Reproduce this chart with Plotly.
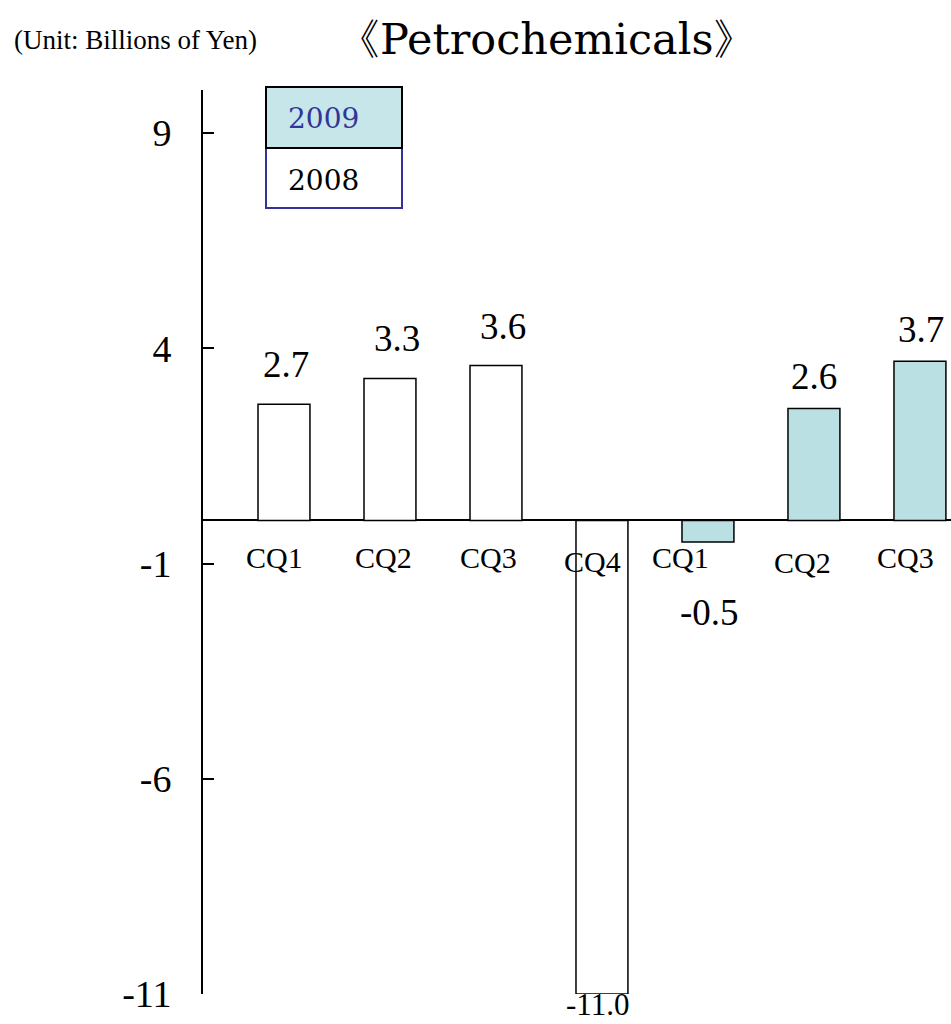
import plotly.graph_objects as go

# ---- data ----
categories = ["CQ1", "CQ2", "CQ3", "CQ4", "CQ1", "CQ2", "CQ3"]
years = ["2008", "2008", "2008", "2008", "2009", "2009", "2009"]
values = [2.7, 3.3, 3.6, -11.0, -0.5, 2.6, 3.7]
value_labels = ["2.7", "3.3", "3.6", "-11.0", "-0.5", "2.6", "3.7"]
y_ticks = [-11, -6, -1, 4, 9]

# ---- layout geometry (pixels) ----
W, H = 951, 1024
L, R, T, B = 203, 0, 90, 30
PW, PH = W - L - R, H - T - B

def px_x(p):
    return (p - L) / PW

def px_y(p):
    return (H - B - p) / PH

SERIF = "'Liberation Serif', 'Times New Roman', serif"
TITLE_FONT = "'DejaVu Serif', serif"
FILL_2009 = "#BBE0E3"

xs = list(range(len(categories)))
x08 = [x for x, y in zip(xs, years) if y == "2008"]
v08 = [v for v, y in zip(values, years) if y == "2008"]
x09 = [x for x, y in zip(xs, years) if y == "2009"]
v09 = [v for v, y in zip(values, years) if y == "2009"]

fig = go.Figure()
fig.add_trace(go.Bar(x=x08, y=v08, name="2008", width=0.49,
                     marker=dict(color="white", line=dict(color="black", width=1.5))))
fig.add_trace(go.Bar(x=x09, y=v09, name="2009", width=0.49,
                     marker=dict(color=FILL_2009, line=dict(color="black", width=1.5))))

annotations = []
# value labels (pixel shifts tuned to the reference)
val_dx = [2, 7, 7, -4, 2, 0, 1]
val_dy = [40, 40, 39, -10, -70, 32, 32]
val_size = [37, 37, 37, 31, 37, 37, 37]
for x, v, t, dx, dy, sz in zip(xs, values, value_labels, val_dx, val_dy, val_size):
    annotations.append(dict(x=x, y=v, xref="x", yref="y", text=t, showarrow=False,
                            xanchor="center", yanchor="middle", xshift=dx, yshift=dy,
                            font=dict(family=SERIF, size=sz, color="black")))
# category labels along the zero line
cat_dx = [-9, -6, -7, -9, -27, -11, -14]
cat_dy = [-37, -37, -37, -41, -37, -42, -37]
for x, c, dx, dy in zip(xs, categories, cat_dx, cat_dy):
    annotations.append(dict(x=x, y=0, xref="x", yref="y", text=c, showarrow=False,
                            xanchor="center", yanchor="middle", xshift=dx, yshift=dy,
                            font=dict(family=SERIF, size=30, color="black")))
# title and unit
annotations.append(dict(x=px_x(546), y=px_y(39), xref="paper", yref="paper",
                        text="《Petrochemicals》", showarrow=False, xanchor="center", yanchor="middle",
                        font=dict(family=TITLE_FONT, size=43, color="black")))
annotations.append(dict(x=px_x(12), y=px_y(40), xref="paper", yref="paper",
                        text="(Unit: Billions of Yen)", showarrow=False, xanchor="left", yanchor="middle",
                        font=dict(family=SERIF, size=27, color="black")))
# legend box texts
annotations.append(dict(x=px_x(286), y=px_y(119), xref="paper", yref="paper", text="2009",
                        showarrow=False, xanchor="left", yanchor="middle",
                        font=dict(family=TITLE_FONT, size=28, color="#333399")))
annotations.append(dict(x=px_x(286), y=px_y(180), xref="paper", yref="paper", text="2008",
                        showarrow=False, xanchor="left", yanchor="middle",
                        font=dict(family=TITLE_FONT, size=28, color="black")))

shapes = [
    dict(type="rect", xref="paper", yref="paper", x0=px_x(266), x1=px_x(402),
         y0=px_y(208), y1=px_y(148), fillcolor="white", line=dict(color="#333399", width=2)),
    dict(type="rect", xref="paper", yref="paper", x0=px_x(266), x1=px_x(402),
         y0=px_y(148), y1=px_y(87), fillcolor="#C6E6E9", line=dict(color="black", width=2)),
]

fig.update_layout(
    width=W, height=H, autosize=False,
    margin=dict(l=L, r=R, t=T, b=B, pad=0),
    plot_bgcolor="white", paper_bgcolor="white",
    showlegend=False, barmode="overlay",
    annotations=annotations, shapes=shapes,
    xaxis=dict(range=[-0.764, 6.293], visible=False, showgrid=False, zeroline=False),
    yaxis=dict(range=[-11, 10], tickvals=y_ticks, ticktext=[str(t) for t in y_ticks],
               showgrid=False, zeroline=True, zerolinecolor="black", zerolinewidth=1.5,
               showline=True, linecolor="black", linewidth=2,
               ticks="inside", ticklen=11, tickwidth=1.5, tickcolor="black",
               ticklabelstandoff=22,
               tickfont=dict(family=SERIF, size=38, color="black")),
)

fig.write_html("out.html")
